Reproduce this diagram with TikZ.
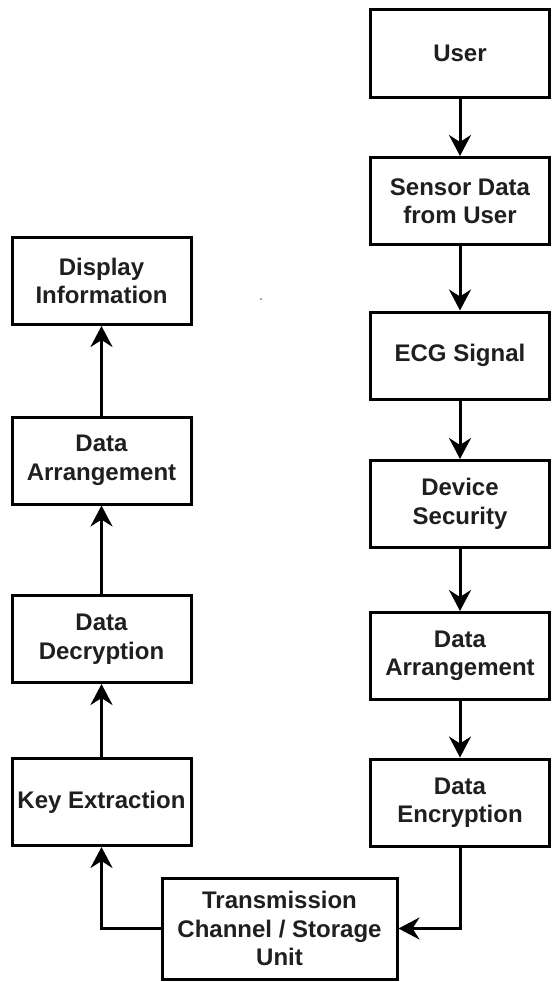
\documentclass[tikz,border=0pt]{standalone}
\usepackage{fontspec}
\setmainfont{Liberation Sans}
\usetikzlibrary{arrows.meta}
\begin{document}
\begin{tikzpicture}[x=1pt,y=-1pt,
  stagebox/.style={draw=black, line width=3pt, fill=white, rectangle,
    minimum width=179pt, minimum height=87pt, inner sep=2pt,
    align=center, text=black!88,
    font=\fontsize{24}{28.5}\selectfont\bfseries},
  flow/.style={line width=3pt, draw=black,
    -{Stealth[length=21pt, width=22pt, inset=7pt]}}]
  % canvas
  \path[fill=white] (0,0) rectangle (552,982);
  \useasboundingbox (0,0) rectangle (552,982);

  % sender side (right column)
  \node[stagebox] (user)   at (460,53.5)  {User};
  \node[stagebox] (sensor) at (460,201)   {Sensor Data\\from User};
  \node[stagebox] (ecg)    at (460,355.5) {ECG Signal};
  \node[stagebox] (device) at (460,504)   {Device\\Security};
  \node[stagebox] (arrR)   at (460,656)   {Data\\Arrangement};
  \node[stagebox] (enc)    at (460,802.5) {Data\\Encryption};

  % channel
  \node[stagebox, minimum width=235pt, minimum height=101pt] (trans) at (279.5,928.5)
    {Transmission\\Channel / Storage\\Unit};

  % receiver side (left column)
  \node[stagebox] (key)  at (101.5,802)   {Key Extraction};
  \node[stagebox] (dec)  at (101.5,639)   {Data\\Decryption};
  \node[stagebox] (arrL) at (101.5,460.5) {Data\\Arrangement};
  \node[stagebox] (disp) at (101.5,281)   {Display\\Information};

  % connectors
  \draw[flow] (user) -- (sensor);
  \draw[flow] (sensor) -- (ecg);
  \draw[flow] (ecg) -- (device);
  \draw[flow] (device) -- (arrR);
  \draw[flow] (arrR) -- (enc);
  \draw[flow] (enc.south) |- (trans.east);
  \draw[flow] (trans.west) -| (key.south);
  \draw[flow] (key) -- (dec);
  \draw[flow] (dec) -- (arrL);
  \draw[flow] (arrL) -- (disp);

  % small speck
  \fill[black!45] (261,299) circle (1.1pt);
\end{tikzpicture}
\end{document}
